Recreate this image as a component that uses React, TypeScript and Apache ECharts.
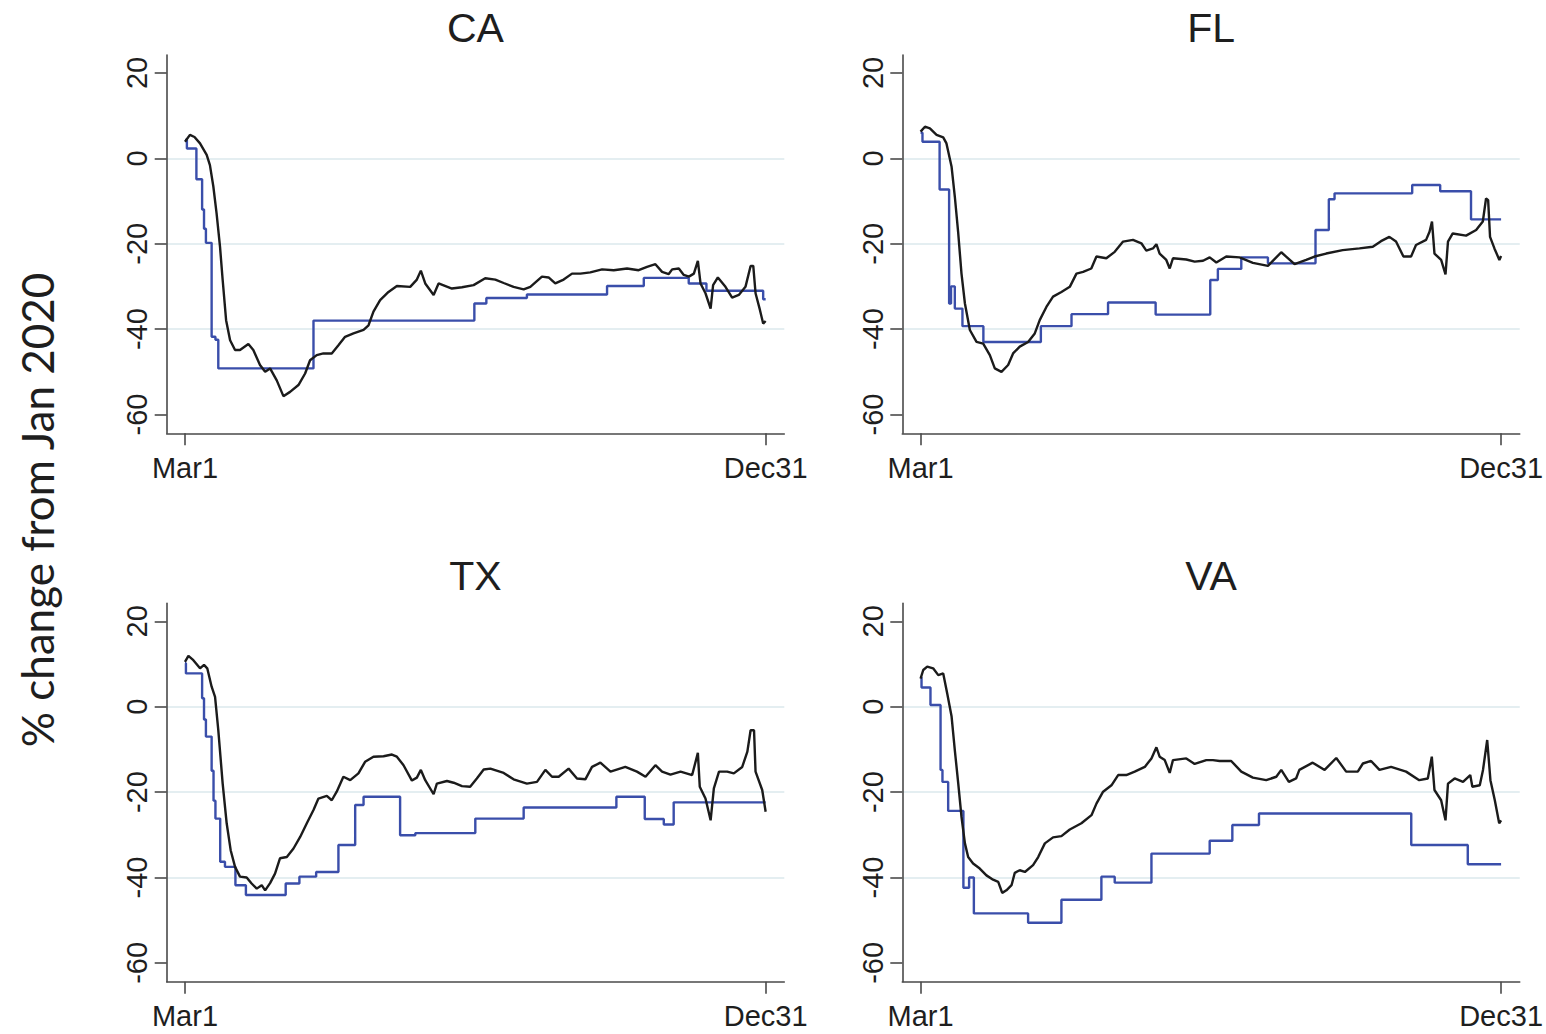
import { useEffect, useRef } from 'react';
import * as echarts from 'echarts';

// Panels, axis ticks and axis title
const states = ['CA', 'FL', 'TX', 'VA'];
const xTickDays = [0, 305];
const xTickLabels = ['Mar1', 'Dec31'];
const yTicks = [-60, -40, -20, 0, 20];
const yAxisTitle = '% change from Jan 2020';

// Daily mobility index ([day since Mar 1, % change])
const caMobility = [
  [0, 3.9], [2.6, 5.5], [5, 5], [7.9, 3.5], [11.4, 0.8], [13.1, -1.6], [14.9, -6.6], [16.6, -12.9],
  [18.4, -20.7], [19.8, -28.5], [21.6, -37.9], [23.7, -42.6], [26.3, -44.9], [28.9, -44.9], [33.3, -43.5],
  [35.9, -44.9], [39.4, -48.4], [42.1, -50], [44.7, -49.2], [48.2, -52], [51.7, -55.7], [55.2, -54.7],
  [59.6, -53.1], [63.1, -50.4], [65.7, -47.3], [69.2, -46.1], [72.7, -45.7], [77.1, -45.7], [80.6, -43.8],
  [84.1, -41.8], [88.5, -41], [93.8, -40.2], [96.4, -39.1], [99, -35.9], [102.5, -33.2], [106.9, -31.3],
  [111.3, -29.9], [118.3, -30.1], [121.8, -28.4], [123.9, -26.3], [126.2, -29.3], [130.6, -32],
  [133.2, -29.3], [140.2, -30.5], [145.5, -30.2], [151.6, -29.7], [157.7, -28.1], [163, -28.4],
  [167.4, -29.2], [172.6, -30.1], [177.9, -30.7], [181.4, -30.1], [187.5, -27.7], [191, -27.9],
  [194.5, -29.3], [198.9, -28.4], [203.3, -27], [207.7, -27], [212.9, -26.7], [219.1, -26], [225.2, -26.2],
  [232.2, -25.8], [238.3, -26.2], [242.7, -25.4], [247.1, -24.8], [250.6, -26.6], [254.1, -27.1],
  [255.9, -26], [259.4, -25.8], [262, -27.3], [264.7, -27.7], [267.3, -27], [269.4, -24], [270.8, -29.3],
  [273.4, -31.6], [276.1, -35.2], [277.4, -29.7], [279.9, -27.9], [283.9, -30.1], [287.4, -32.6],
  [290.9, -32], [294.4, -30.1], [297.1, -25.2], [298.5, -25.2], [299.7, -31.6], [302, -35.5],
  [303.7, -38.7], [305, -38.1],
];
const flMobility = [
  [0, 6.25], [2.3, 7.4], [4.9, 7], [8.4, 5.5], [11.9, 4.9], [13.6, 3.5], [16.3, -2], [18, -9], [19.8, -17.6],
  [21.5, -27], [23.3, -34], [25.9, -40.2], [29.4, -43], [32.9, -43.4], [36.4, -46.1], [39, -49.2],
  [42.5, -50], [46, -48.4], [48.6, -45.7], [52.1, -44.1], [56.5, -43], [60, -41], [62.6, -37.9],
  [66.1, -34.8], [69.6, -32.4], [74, -31.3], [78.4, -30.1], [81.9, -27], [85.4, -26.6], [89.7, -25.8],
  [92.4, -23], [97.6, -23.4], [102, -21.9], [106.4, -19.5], [111.6, -19.1], [116, -19.9], [118.6, -21.6],
  [122.1, -21.1], [123.9, -20.1], [125.6, -22.3], [129.1, -23.8], [130.9, -25.8], [132.6, -23.4],
  [139.6, -23.7], [144, -24.2], [148.4, -24], [151.9, -23.2], [155.4, -24.4], [160.6, -23], [167.6, -23.2],
  [174.6, -24.5], [182.5, -25.2], [189.5, -22], [196.5, -24.8], [202.6, -23.8], [207, -23], [213.1, -22.3],
  [221.8, -21.5], [230.6, -21.1], [237.6, -20.7], [241.9, -19.4], [246.3, -18.4], [249.8, -19.5],
  [253.7, -23], [257.7, -23], [260.3, -20.3], [265.6, -19.1], [267.4, -17.2], [268.7, -14.8], [270, -22.3],
  [273.5, -23.8], [275.8, -27.2], [277.1, -19.5], [279.6, -17.6], [286.6, -18.1], [291.9, -16.8],
  [295.4, -14.8], [297.1, -9.4], [298.2, -9.8], [299.2, -18.4], [301.5, -21.1], [304.1, -23.8], [305, -22.9],
];
const txMobility = [
  [0, 10.5], [1.8, 11.9], [4.4, 10.9], [7.9, 9], [10, 9.8], [11.7, 9], [14, 4.7], [15.8, 2.3], [17.5, -5.5],
  [19.8, -18], [21.9, -27.3], [24, -33.6], [26.3, -37.5], [28.9, -39.8], [32.4, -40], [35, -41.4],
  [37.7, -42.6], [40.3, -41.8], [42.1, -43], [44.7, -41.3], [47.3, -39.1], [49.9, -35.5], [53.5, -35.2],
  [57, -33.2], [60.5, -30.5], [64, -27.3], [67.5, -24.2], [70.1, -21.5], [74.5, -20.9], [77.1, -21.9],
  [79.7, -19.9], [83.2, -16.4], [86.8, -17.2], [91.1, -15.6], [94.6, -12.9], [99, -11.7], [104.3, -11.6],
  [108.7, -11.2], [111.3, -11.7], [114.8, -13.7], [119.2, -17.3], [121.8, -16.6], [123.9, -14.8],
  [126.2, -17.2], [130.6, -20.5], [132.3, -18], [137.6, -17.4], [141.1, -17.8], [145.5, -18.6],
  [149.8, -18.75], [153.3, -16.8], [156.9, -14.7], [160.4, -14.5], [167.4, -15.5], [172.6, -17],
  [179.6, -18], [184.9, -17.6], [189.3, -14.8], [192.8, -16.4], [196.3, -16.4], [201.5, -14.5],
  [205.9, -16.8], [210.3, -17], [213.8, -14.1], [218.2, -13.1], [223.5, -15.2], [231.3, -14.1],
  [237.4, -15.2], [241.9, -16.4], [247.1, -13.7], [250.6, -15.2], [255, -15.9], [260.3, -15.2],
  [266.4, -16], [269.4, -10.8], [270.4, -18.75], [273.4, -21.5], [276.1, -26.6], [277.8, -19.1],
  [280.5, -15.2], [284.8, -15.2], [288.3, -15.6], [292.7, -14.1], [295.4, -10.5], [297.1, -5.5],
  [298.9, -5.5], [299.7, -15.2], [303.2, -19.5], [305, -24.6],
];
const vaMobility = [
  [0, 6.6], [1.4, 8.6], [3.5, 9.4], [6.6, 9], [9.3, 7.4], [11.9, 7.8], [14, 3.1], [16.3, -2.3], [18, -10.2],
  [19.8, -18], [21.5, -25.8], [23.3, -32], [25, -35.2], [27.6, -36.7], [31.1, -37.9], [34.6, -39.5],
  [38.1, -40.5], [40.8, -41], [42.9, -43.6], [45.1, -43], [47.8, -41.8], [49.5, -38.9], [52.1, -38.3],
  [54.8, -38.7], [59.1, -37.1], [61.8, -35.2], [65.3, -32], [69.6, -30.6], [74, -30.3], [78.4, -28.75],
  [84.5, -27.3], [89.8, -25.4], [92.4, -22.7], [95.9, -19.9], [100.3, -18.4], [103.8, -16], [108.1, -16],
  [112.5, -15.2], [117.8, -14.1], [121.3, -12.1], [123.9, -9.5], [125.6, -11.7], [128.3, -12.5],
  [130.9, -15.5], [132.6, -12.5], [139.6, -12.1], [144, -13.4], [150.1, -12.5], [153.6, -12.5],
  [157.1, -12.7], [163.2, -12.7], [168.5, -15.2], [174.6, -16.6], [181.6, -17.2], [186.9, -16.4],
  [189.5, -14.8], [193.5, -17.6], [197.3, -16.8], [199, -14.8], [206, -13.1], [212.3, -14.8], [218.4, -12],
  [223.6, -15.2], [229.7, -15.2], [232.4, -13.3], [236.7, -12.7], [241.1, -14.8], [247.2, -14.1],
  [255.1, -15.2], [262, -17.2], [266.5, -16.8], [268.6, -11.7], [270, -19.5], [273.5, -21.9],
  [275.8, -26.6], [277.1, -18], [280.6, -16.8], [285, -17.6], [288.8, -16], [289.9, -18.75],
  [293.8, -18.4], [295.5, -14.8], [297.7, -7.8], [299.4, -17.2], [301.7, -21.9], [304, -27.3], [305, -26.6],
];

// Policy index, piecewise constant: each value holds until the next change day
const caPolicy = [
  [0, 4.3], [1, 2.3], [6, -4.9], [9, -12], [10, -16.5], [11, -19.8], [14, -41.8], [16, -42.5], [17.5, -49.2],
  [67.5, -38], [152, -34], [158.3, -32.7], [179.6, -31.9], [221.7, -29.9], [241, -28], [264.6, -29.3],
  [273.9, -31], [303.7, -33], [305, -33],
];
const flPolicy = [
  [0, 6], [1, 3.9], [10, -7.3], [15, -34], [16, -30], [18, -35.2], [22, -39.3], [33, -43], [63.2, -39.3],
  [79.3, -36.5], [98.5, -33.75], [123.5, -36.6], [152.2, -28.5], [156.2, -25.9], [168.5, -23.2],
  [182.5, -24.6], [207.5, -16.8], [214.5, -9.6], [217.5, -8.2], [258.3, -6.25], [273, -7.7],
  [289.2, -14.3], [305, -14.3],
];
const txPolicy = [
  [0, 10.2], [0.5, 7.8], [9, 2], [10, -3], [11, -7], [14, -15], [15, -22], [16, -26.2], [18.5, -36.3],
  [21, -37.5], [26.5, -41.8], [32, -44.1], [52.9, -41.4], [60.1, -39.8], [68.9, -38.7], [80.6, -32.4],
  [89.4, -23], [93.8, -21.1], [113, -30.1], [121, -29.6], [152.5, -26.2], [177.9, -23.6], [226.6, -21.1],
  [241.5, -26.3], [251.5, -27.6], [256.7, -22.4], [305, -22.4],
];
const vaPolicy = [
  [0, 6.9], [0.5, 4.5], [5.2, 0.4], [10.5, -14.8], [11.5, -17.6], [14.5, -24.4], [22.5, -42.4],
  [25.5, -40], [28, -48.4], [56.5, -50.6], [74, -45.2], [95, -39.8], [102, -41.2], [121.3, -34.4],
  [151.9, -31.4], [163.8, -27.7], [177.8, -25], [257.8, -32.4], [287.5, -36.9], [305, -36.9],
];

const mobilityByState = [caMobility, flMobility, txMobility, vaMobility];
const policyByState = [caPolicy, flPolicy, txPolicy, vaPolicy];

// Layout of the 2x2 panel grid
const PANEL_W = 617.6;
const PANEL_H = 378.3;
const panelOrigins = [
  [166.7, 55],
  [902.3, 55],
  [166.7, 603.4],
  [902.3, 603.4],
];
const X_MIN = -9.6;
const X_MAX = 314.8;
const Y_MIN = -64.4;
const Y_MAX = 24.2;

const AXIS_FONT = '"Liberation Sans", Arial, Helvetica, sans-serif';
const TEXT_COLOR = '#1e1e1e';
const AXIS_COLOR = '#4a4a4a';
const GRID_COLOR = '#e4eef1';
const POLICY_COLOR = '#3a4eaa';
const MOBILITY_COLOR = '#1b1b1b';

function buildOption(): echarts.EChartsOption {
  const grid = panelOrigins.map(([left, top]) => ({
    left,
    top,
    width: PANEL_W,
    height: PANEL_H,
    containLabel: false,
  }));

  const xAxis = states.map((_, i) => ({
    type: 'value' as const,
    gridIndex: i,
    min: X_MIN,
    max: X_MAX,
    axisLine: { onZero: false, lineStyle: { color: AXIS_COLOR, width: 1.6 } },
    axisTick: {
      customValues: xTickDays,
      length: 12,
      lineStyle: { color: AXIS_COLOR, width: 1.6 },
    },
    axisLabel: {
      customValues: xTickDays,
      formatter: (v: number) => {
        const k = xTickDays.indexOf(v);
        return k >= 0 ? xTickLabels[k] : '';
      },
      fontFamily: AXIS_FONT,
      fontSize: 29,
      color: TEXT_COLOR,
      margin: 20,
      hideOverlap: false,
    },
    splitLine: { show: false },
  }));

  const yAxis = states.map((_, i) => ({
    type: 'value' as const,
    gridIndex: i,
    min: Y_MIN,
    max: Y_MAX,
    axisLine: { show: true, onZero: false, lineStyle: { color: AXIS_COLOR, width: 1.6 } },
    axisTick: {
      show: true,
      customValues: yTicks,
      length: 12,
      lineStyle: { color: AXIS_COLOR, width: 1.6 },
    },
    axisLabel: {
      customValues: yTicks,
      formatter: (v: number) => (yTicks.includes(v) ? String(v) : ''),
      rotate: 90,
      fontFamily: AXIS_FONT,
      fontSize: 29,
      color: TEXT_COLOR,
      margin: 15,
      hideOverlap: false,
    },
    splitLine: {
      show: true,
      showMinLine: false,
      showMaxLine: false,
      lineStyle: { color: GRID_COLOR, width: 1.8 },
    },
  }));

  const series = states.flatMap((name, i) => [
    {
      name: `${name} policy`,
      type: 'line' as const,
      xAxisIndex: i,
      yAxisIndex: i,
      data: policyByState[i],
      step: 'end' as const,
      showSymbol: false,
      silent: true,
      lineStyle: { color: POLICY_COLOR, width: 2.4 },
      z: 2,
    },
    {
      name: `${name} mobility`,
      type: 'line' as const,
      xAxisIndex: i,
      yAxisIndex: i,
      data: mobilityByState[i],
      showSymbol: false,
      silent: true,
      lineStyle: { color: MOBILITY_COLOR, width: 2.4 },
      z: 3,
    },
  ]);

  const titles = states.map((name, i) => ({
    type: 'text' as const,
    x: panelOrigins[i][0] + PANEL_W / 2,
    y: panelOrigins[i][1] - 27,
    style: {
      text: name,
      fontFamily: AXIS_FONT,
      fontSize: 41,
      fill: TEXT_COLOR,
      textAlign: 'center' as const,
      textVerticalAlign: 'middle' as const,
    },
  }));

  return {
    animation: false,
    backgroundColor: '#ffffff',
    grid,
    xAxis,
    yAxis,
    series,
    graphic: [
      ...titles,
      {
        type: 'text',
        x: 36.5,
        y: 510,
        rotation: Math.PI / 2,
        style: {
          text: yAxisTitle,
          fontFamily: 'Lato, "Open Sans", sans-serif',
          fontSize: 44,
          fill: TEXT_COLOR,
          textAlign: 'center',
          textVerticalAlign: 'middle',
        },
      },
    ],
  } as echarts.EChartsOption;
}

export default function App() {
  const ref = useRef<HTMLDivElement>(null);

  useEffect(() => {
    document.body.style.margin = '0';
    if (!ref.current) return;
    const chart = echarts.init(ref.current, undefined, { renderer: 'svg' });
    chart.setOption(buildOption());
    return () => {
      chart.dispose();
    };
  }, []);

  return <div ref={ref} style={{ width: 1546, height: 1034, background: '#fff' }} />;
}
